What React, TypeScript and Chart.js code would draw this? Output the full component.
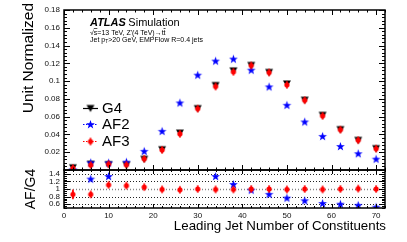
import React, { useEffect, useRef } from "react";
import { Chart, registerables } from "chart.js";

Chart.register(...registerables);

// ---------- data ----------
const binCenters = [2, 6, 10, 14, 18, 22, 26, 30, 34, 38, 42, 46, 50, 54, 58, 62, 66, 70];
const g4 = [0.0025, 0.0065, 0.006, 0.0055, 0.012, 0.0228, 0.0415, 0.069, 0.095, 0.1115, 0.1176, 0.1097, 0.0968, 0.0785, 0.0615, 0.0454, 0.0333, 0.024];
const af2 = [0.0003, 0.0081, 0.0079, 0.0088, 0.021, 0.0435, 0.0754, 0.1067, 0.1225, 0.1248, 0.1123, 0.0935, 0.0728, 0.054, 0.0378, 0.0265, 0.0183, 0.0122];
const af3 = [0.0021, 0.0055, 0.0066, 0.0059, 0.0126, 0.0226, 0.0407, 0.069, 0.094, 0.1104, 0.1176, 0.1097, 0.0958, 0.0785, 0.0609, 0.0454, 0.0336, 0.024];
const ratioAF2 = [null, 1.26, 1.33, null, null, null, null, null, 1.33, 1.12, 0.97, 0.86, 0.76, 0.69, 0.62, 0.6, 0.57, 0.52];
const ratioAF3 = [0.86, 0.86, 1.11, 1.09, 1.05, 0.99, 0.98, 1.0, 0.99, 0.99, 1.0, 1.0, 0.99, 1.0, 0.99, 1.0, 1.01, 1.0];
const ratioAF3Err = [0.13, 0.06, 0.05, 0.05, 0.05, 0.04, 0.04, 0.04, 0.04, 0.04, 0.04, 0.04, 0.04, 0.04, 0.04, 0.04, 0.05, 0.05];
const xTickLabels = [0, 10, 20, 30, 40, 50, 60, 70];
const mainYTickLabels = [0.02, 0.04, 0.06, 0.08, 0.1, 0.12, 0.14, 0.16, 0.18];
const ratioYTickLabels = [0.6, 0.8, 1, 1.2, 1.4];
const seriesNames = ["G4", "AF2", "AF3"];
const xTitle = "Leading Jet Number of Constituents";
const yTitle = "Unit Normalized";
const ratioTitle = "AF/G4";

const FONT = '"Liberation Sans", Arial, sans-serif';

function makeTriangle(color: string) {
  const c = document.createElement("canvas");
  c.width = 10;
  c.height = 10;
  const g = c.getContext("2d")!;
  g.fillStyle = color;
  g.beginPath();
  g.moveTo(1, 1.5);
  g.lineTo(9, 1.5);
  g.lineTo(5, 8.5);
  g.closePath();
  g.fill();
  return c;
}

function makeStar(color: string) {
  const c = document.createElement("canvas");
  c.width = 11;
  c.height = 11;
  const g = c.getContext("2d")!;
  g.fillStyle = color;
  g.beginPath();
  const cx = 5.5, cy = 5.7, ro = 4.6, ri = 1.9;
  for (let k = 0; k < 10; k++) {
    const r = k % 2 === 0 ? ro : ri;
    const a = -Math.PI / 2 + (k * Math.PI) / 5;
    const px = cx + r * Math.cos(a);
    const py = cy + r * Math.sin(a);
    if (k === 0) g.moveTo(px, py);
    else g.lineTo(px, py);
  }
  g.closePath();
  g.fill();
  return c;
}

function makeDot(color: string) {
  const c = document.createElement("canvas");
  c.width = 10;
  c.height = 10;
  const g = c.getContext("2d")!;
  g.fillStyle = color;
  g.beginPath();
  g.arc(5, 5, 2.6, 0, Math.PI * 2);
  g.fill();
  g.fillRect(4.2, 1.3, 1.6, 7.4);
  return c;
}

export default function App() {
  const ref = useRef<HTMLCanvasElement | null>(null);

  useEffect(() => {
    const canvas = ref.current;
    if (!canvas) return;
    const tri = makeTriangle("#000000");
    const star = makeStar("#0000ff");
    const dot = makeDot("#ff0000");

    const rootPlugin = {
      id: "rootStyle",
      beforeDatasetDraw(chart: any, args: any) {
        const meta = args.meta;
        const ys = chart.scales[meta.yAxisID];
        const { ctx, chartArea } = chart;
        ctx.save();
        ctx.beginPath();
        ctx.rect(chartArea.left - 8, ys.top, chartArea.right - chartArea.left + 16, ys.bottom - ys.top);
        ctx.clip();
      },
      afterDatasetDraw(chart: any) {
        chart.ctx.restore();
      },
      beforeDatasetsDraw(chart: any) {
        const { ctx, chartArea } = chart;
        const x = chart.scales.x;
        const y2 = chart.scales.y2;
        ctx.save();
        ctx.lineWidth = 1;
        ctx.setLineDash([1, 2]);
        for (const v of ratioYTickLabels) {
          const py = Math.round(y2.getPixelForValue(v)) + 0.5;
          ctx.strokeStyle = v === 1 ? "#888" : "#222";
          ctx.lineWidth = v === 1 ? 1.5 : 1;
          ctx.beginPath();
          ctx.moveTo(chartArea.left, py);
          ctx.lineTo(chartArea.right, py);
          ctx.stroke();
        }
        ctx.setLineDash([]);
        ctx.strokeStyle = "#ff0000";
        ctx.lineWidth = 1.5;
        for (let i = 0; i < binCenters.length; i++) {
          const px = x.getPixelForValue(binCenters[i]);
          const a = Math.max(0.5, ratioAF3[i] - ratioAF3Err[i]);
          const b = Math.min(1.5, ratioAF3[i] + ratioAF3Err[i]);
          ctx.beginPath();
          ctx.moveTo(px, y2.getPixelForValue(a));
          ctx.lineTo(px, y2.getPixelForValue(b));
          ctx.stroke();
        }
        ctx.restore();
      },
      afterDraw(chart: any) {
        const { ctx, chartArea } = chart;
        const x = chart.scales.x;
        const y = chart.scales.y;
        const y2 = chart.scales.y2;
        const L = chartArea.left, R = chartArea.right;
        ctx.save();
        ctx.strokeStyle = "#000";
        ctx.fillStyle = "#000";

        // ticks
        ctx.lineWidth = 1;
        const xTicks = (top: number, bottom: number, maj: number, min: number) => {
          for (let v = 0; v <= 72; v += 2) {
            const px = Math.round(x.getPixelForValue(v)) + 0.5;
            const len = v % 10 === 0 ? maj : min;
            ctx.beginPath();
            ctx.moveTo(px, top);
            ctx.lineTo(px, top + len);
            ctx.moveTo(px, bottom);
            ctx.lineTo(px, bottom - len);
            ctx.stroke();
          }
        };
        xTicks(y.top, y.bottom, 5, 2.5);
        xTicks(y2.top, y2.bottom, 4, 2);
        for (let k = 0; k <= 45; k++) {
          const v = k * 0.004;
          const py = Math.round(y.getPixelForValue(v)) + 0.5;
          const len = k % 5 === 0 ? 6 : 3;
          ctx.beginPath();
          ctx.moveTo(L, py);
          ctx.lineTo(L + len, py);
          ctx.moveTo(R, py);
          ctx.lineTo(R - len, py);
          ctx.stroke();
        }
        for (let k = 10; k <= 30; k++) {
          const v = k * 0.05;
          const py = Math.round(y2.getPixelForValue(v)) + 0.5;
          const major = k % 4 === 0 && k >= 12 && k <= 28;
          const len = major ? 6 : 3;
          ctx.beginPath();
          ctx.moveTo(L, py);
          ctx.lineTo(L + len, py);
          ctx.moveTo(R, py);
          ctx.lineTo(R - len, py);
          ctx.stroke();
        }

        // frames
        ctx.lineWidth = 1.5;
        ctx.strokeRect(L, y.top, R - L, y.bottom - y.top);
        ctx.strokeRect(L, y2.top, R - L, y2.bottom - y2.top);

        // axis titles
        ctx.textBaseline = "alphabetic";
        ctx.font = `15.5px ${FONT}`;
        ctx.save();
        ctx.translate(33, 3);
        ctx.rotate(-Math.PI / 2);
        ctx.textAlign = "right";
        ctx.fillText(yTitle, 0, 0);
        ctx.restore();

        ctx.font = `14px ${FONT}`;
        ctx.save();
        ctx.translate(35, (y2.top + y2.bottom) / 2);
        ctx.rotate(-Math.PI / 2);
        ctx.textAlign = "center";
        ctx.fillText(ratioTitle, 0, 0);
        ctx.restore();

        ctx.font = `13.3px ${FONT}`;
        ctx.textAlign = "right";
        ctx.fillText(xTitle, R + 1, 229.5);

        // ATLAS label
        ctx.textAlign = "left";
        ctx.font = `italic bold 11px ${FONT}`;
        ctx.fillText("ATLAS", 90, 26);
        const wA = ctx.measureText("ATLAS").width;
        ctx.font = `11px ${FONT}`;
        ctx.fillText("Simulation", 90 + wA + 2.5, 26);

        // line 2
        ctx.font = `7px ${FONT}`;
        ctx.lineWidth = 0.7;
        let cx = 90;
        const b2 = 34.5;
        const put = (t: string, over = false) => {
          ctx.fillText(t, cx, b2);
          const w = ctx.measureText(t).width;
          if (over) {
            ctx.beginPath();
            ctx.moveTo(cx, b2 - 6);
            ctx.lineTo(cx + w, b2 - 6);
            ctx.stroke();
          }
          cx += w;
        };
        put("√");
        put("s", true);
        put("=13 TeV, Z'(4 TeV)→t");
        put("t", true);

        // line 3
        const b3 = 41.5;
        cx = 90;
        ctx.font = `7px ${FONT}`;
        ctx.fillText("Jet p", cx, b3);
        cx += ctx.measureText("Jet p").width;
        ctx.font = `5px ${FONT}`;
        ctx.fillText("T", cx, b3 + 1.8);
        cx += ctx.measureText("T").width;
        ctx.font = `7px ${FONT}`;
        ctx.fillText(">20 GeV, EMPFlow R=0.4 jets", cx, b3);

        // legend
        const legY = [108.5, 124.5, 141.5];
        const colors = ["#000000", "#0000ff", "#ff0000"];
        const imgs = [tri, star, dot];
        for (let i = 0; i < 3; i++) {
          ctx.strokeStyle = colors[i];
          ctx.lineWidth = 1.2;
          ctx.setLineDash(i === 0 ? [] : [1.5, 1.5]);
          ctx.beginPath();
          ctx.moveTo(83, legY[i]);
          ctx.lineTo(98, legY[i]);
          ctx.stroke();
          ctx.setLineDash([]);
          const im = imgs[i];
          ctx.drawImage(im, 90.5 - im.width / 2, legY[i] - im.height / 2);
          ctx.fillStyle = "#000";
          ctx.font = `15px ${FONT}`;
          ctx.textBaseline = "middle";
          ctx.fillText(seriesNames[i], 102, legY[i] + 0.5);
        }
        ctx.restore();
      },
    };

    const pts = (vals: (number | null)[]) => binCenters.map((c, i) => ({ x: c, y: vals[i] }));
    const tickFont = { family: FONT, size: 8 };

    const chart = new Chart(canvas, {
      type: "scatter",
      data: {
        datasets: [
          { label: "AF3", data: pts(af3), yAxisID: "y", pointStyle: dot as any, order: 0, clip: false as any, showLine: false },
          { label: "AF2", data: pts(af2), yAxisID: "y", pointStyle: star as any, order: 1, clip: false as any, showLine: false },
          { label: "G4", data: pts(g4), yAxisID: "y", pointStyle: tri as any, order: 2, clip: false as any, showLine: false },
          { label: "AF3/G4", data: pts(ratioAF3), yAxisID: "y2", pointStyle: dot as any, order: 0, clip: false as any, showLine: false },
          { label: "AF2/G4", data: pts(ratioAF2), yAxisID: "y2", pointStyle: star as any, order: 1, clip: false as any, showLine: false },
        ],
      },
      options: {
        animation: false,
        responsive: false,
        devicePixelRatio: 1,
        events: [],
        layout: { padding: { top: 10, right: 22, left: 0, bottom: 0 } },
        plugins: { legend: { display: false }, tooltip: { enabled: false } },
        scales: {
          x: {
            type: "linear",
            position: "bottom",
            min: 0,
            max: 72,
            grid: { display: false, drawTicks: false },
            border: { display: false },
            ticks: { font: tickFont, color: "#111", padding: 3, maxRotation: 0, autoSkip: false, callback: (v: any) => String(v) },
            afterBuildTicks: (s: any) => { s.ticks = xTickLabels.map((v) => ({ value: v })); },
            afterFit: (s: any) => { s.height = 34; },
          },
          y: {
            type: "linear",
            position: "left",
            stack: "panels",
            stackWeight: 160,
            weight: 2,
            min: 0,
            max: 0.18,
            grid: { display: false, drawTicks: false },
            border: { display: false },
            ticks: { font: tickFont, color: "#111", padding: 4, autoSkip: false, callback: (v: any) => String(+Number(v).toFixed(2)) },
            afterBuildTicks: (s: any) => { s.ticks = mainYTickLabels.map((v) => ({ value: v })); },
            afterFit: (s: any) => { s.width = 64; },
          },
          y2: {
            type: "linear",
            position: "left",
            stack: "panels",
            stackWeight: 38,
            weight: 1,
            min: 0.5,
            max: 1.5,
            grid: { display: false, drawTicks: false },
            border: { display: false },
            ticks: { font: tickFont, color: "#111", padding: 4, autoSkip: false, callback: (v: any) => String(+Number(v).toFixed(1)) },
            afterBuildTicks: (s: any) => { s.ticks = ratioYTickLabels.map((v) => ({ value: v })); },
            afterFit: (s: any) => { s.width = 64; },
          },
        } as any,
      },
      plugins: [rootPlugin as any],
    });
    return () => chart.destroy();
  }, []);

  return (
    <div style={{ position: "absolute", left: 0, top: 0, width: 407, height: 242, background: "#fff" }}>
      <canvas ref={ref} width={407} height={242} style={{ display: "block" }} />
    </div>
  );
}
